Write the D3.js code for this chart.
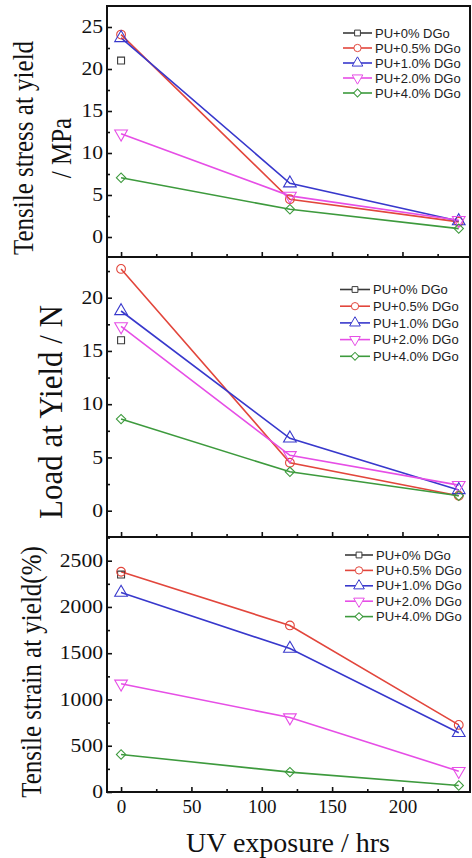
<!DOCTYPE html>
<html>
<head>
<meta charset="utf-8">
<script src="https://cdn.jsdelivr.net/npm/d3@7"></script>
<style>
  body { margin: 0; background: #fff; }
  svg { display: block; }
  .serif { font-family: "Liberation Serif", "Times New Roman", serif; fill: #111; }
  .legend text { font-family: "Liberation Sans", Arial, sans-serif; font-size: 13px; fill: #222; }
</style>
</head>
<body>
<svg id="chart" width="472" height="858"></svg>
<script>
// data
const hours = [0, 120, 240];
const seriesNames = ['PU+0% DGo', 'PU+0.5% DGo', 'PU+1.0% DGo', 'PU+2.0% DGo', 'PU+4.0% DGo'];
const stressValues = [[21.0, null, null], [24.1, 4.5, 1.8], [23.7, 6.4, 1.9], [12.3, 4.9, 2.0], [7.05, 3.3, 1.0]];
const loadValues = [[16.0, null, null], [22.7, 4.5, 1.4], [18.75, 6.8, 1.95], [17.3, 5.2, 2.4], [8.6, 3.65, 1.4]];
const strainValues = [[2350, null, null], [2380, 1800, 725], [2155, 1550, 640], [1170, 805, 225], [405, 215, 70]];
const hourTicks = [0, 50, 100, 150, 200];
const hourMinor = [25, 75, 125, 175, 225];
const stressTicks = [0, 5, 10, 15, 20, 25];
const loadTicks = [0, 5, 10, 15, 20];
const strainTicks = [0, 500, 1000, 1500, 2000, 2500];

const colors = ['#3a3a3a', '#e2463c', '#3838cc', '#e64ee6', '#3d9a3d'];
const symbols = [
  {type: d3.symbolSquare, size: 48, rot: 0},
  {type: d3.symbolCircle, size: 60, rot: 0},
  {type: d3.symbolTriangle, size: 70, rot: 0},
  {type: d3.symbolTriangle, size: 70, rot: 180},
  {type: d3.symbolSquare, size: 44, rot: 45}
];

const left = 107, right = 470;
const sx = 1.2; // the source figure is stretched sideways

const svg = d3.select('#chart');

const x = d3.scaleLinear().domain([-10, 248]).range([left, right]);

const panels = [
  {top: 6, bottom: 257, domain: [-2.38, 27.5], ticks: stressTicks, minorStep: 2.5, values: stressValues,
   titles: [{text: 'Tensile stress at yield', bx: 33, cy: 148, size: 25, s: sx}, {text: '/ MPa', bx: 71, cy: 148, size: 25, s: sx}],
   legend: {x0: 343, x1: 372, tx: 375, y0: 33, dy: 15}, xLabels: false},
  {top: 257, bottom: 537, domain: [-2.47, 23.82], ticks: loadTicks, minorStep: 2.5, values: loadValues,
   titles: [{text: 'Load at Yield / N', bx: 62, cy: 412, size: 31, s: 1.08}],
   legend: {x0: 340, x1: 370, tx: 373, y0: 289.5, dy: 16.7}, xLabels: false},
  {top: 537, bottom: 792, domain: [0, 2756], ticks: strainTicks, minorStep: 250, values: strainValues,
   titles: [{text: 'Tensile strain at yield(%)', bx: 41, cy: 672, size: 25, s: sx}],
   legend: {x0: 345, x1: 373, tx: 376, y0: 555, dy: 15.4}, xLabels: true}
];

panels.forEach(p => {
  const y = d3.scaleLinear().domain(p.domain).range([p.bottom, p.top]);
  const g = svg.append('g');

  // minor ticks
  const yMinor = d3.range(p.minorStep, p.domain[1], p.minorStep * 2);
  g.append('g')
    .attr('transform', `translate(${left},0)`)
    .call(d3.axisLeft(y).tickValues(yMinor).tickSize(-3).tickFormat(''))
    .call(a => a.select('.domain').remove());

  const yAxisG = g.append('g')
    .attr('transform', `translate(${left},0)`)
    .call(d3.axisLeft(y).tickValues(p.ticks).tickSize(-5).tickPadding(4).tickFormat(d3.format('d')))
    .call(a => a.select('.domain').remove());
  yAxisG.selectAll('text')
    .attr('font-family', '"Liberation Serif", "Times New Roman", serif')
    .attr('font-size', 18)
    .attr('fill', '#111')
    .attr('x', -4 / sx)
    .attr('transform', `scale(${sx},1)`);

  g.append('g')
    .attr('transform', `translate(0,${p.bottom})`)
    .call(d3.axisBottom(x).tickValues(hourMinor).tickSize(-3).tickFormat(''))
    .call(a => a.select('.domain').remove());

  const xAxisG = g.append('g')
    .attr('transform', `translate(0,${p.bottom})`)
    .call(d3.axisBottom(x).tickValues(hourTicks).tickSize(-5).tickPadding(8)
      .tickFormat(p.xLabels ? d3.format('d') : ''))
    .call(a => a.select('.domain').remove());
  xAxisG.selectAll('text')
    .attr('font-family', '"Liberation Serif", "Times New Roman", serif')
    .attr('font-size', 19)
    .attr('fill', '#111');

  g.selectAll('.tick line').attr('stroke', '#111').attr('stroke-width', 1.6);

  // frame
  g.append('rect')
    .attr('x', left).attr('y', p.top)
    .attr('width', right - left).attr('height', p.bottom - p.top)
    .attr('fill', 'none').attr('stroke', '#111').attr('stroke-width', 2);

  // series
  const line = d3.line()
    .defined(d => d != null)
    .x((d, i) => x(hours[i]))
    .y(d => y(d));

  p.values.forEach((vals, s) => {
    g.append('path')
      .datum(vals)
      .attr('fill', 'none')
      .attr('stroke', colors[s])
      .attr('stroke-width', 1.6)
      .attr('d', line);
  });
  p.values.forEach((vals, s) => {
    const sym = symbols[s];
    g.selectAll(null)
      .data(vals.map((v, i) => ({v, h: hours[i]})).filter(d => d.v != null))
      .join('path')
      .attr('transform', d => `translate(${x(d.h)},${y(d.v)}) rotate(${sym.rot})`)
      .attr('d', d3.symbol().type(sym.type).size(sym.size))
      .attr('fill', 'none')
      .attr('stroke', colors[s])
      .attr('stroke-width', 1.1);
  });

  // legend
  const lg = g.append('g').attr('class', 'legend');
  seriesNames.forEach((name, s) => {
    const ly = p.legend.y0 + s * p.legend.dy;
    const sym = symbols[s];
    lg.append('line')
      .attr('x1', p.legend.x0).attr('x2', p.legend.x1)
      .attr('y1', ly).attr('y2', ly)
      .attr('stroke', colors[s]).attr('stroke-width', 1.6);
    lg.append('path')
      .attr('transform', `translate(${(p.legend.x0 + p.legend.x1) / 2},${ly}) rotate(${sym.rot})`)
      .attr('d', d3.symbol().type(sym.type).size(sym.size * 0.7))
      .attr('fill', '#fff')
      .attr('stroke', colors[s])
      .attr('stroke-width', 1);
    lg.append('text')
      .attr('x', p.legend.tx).attr('y', ly)
      .attr('dy', '0.36em')
      .text(name);
  });

  // y titles
  p.titles.forEach(t => {
    g.append('text')
      .attr('class', 'serif')
      .attr('font-size', t.size)
      .attr('text-anchor', 'middle')
      .attr('transform', `translate(${t.bx},${t.cy}) scale(${t.s},1) rotate(-90)`)
      .text(t.text);
  });
});

svg.append('text')
  .attr('class', 'serif')
  .attr('x', 288).attr('y', 852)
  .attr('text-anchor', 'middle')
  .attr('font-size', 28)
  .text('UV exposure / hrs');
</script>
</body>
</html>
